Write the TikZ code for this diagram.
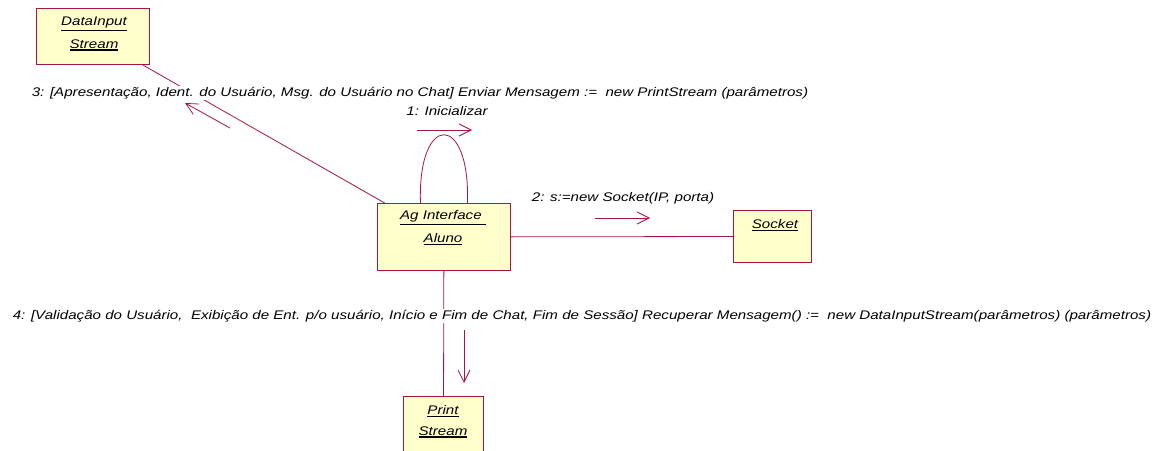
\documentclass[tikz,border=0pt]{standalone}
\usepackage{fontspec}
\setmainfont{Liberation Sans}
\newfontfamily\wideit[FakeStretch=1.21]{Liberation Sans}
\newcommand\thul[1]{\leavevmode\vtop{\hbox{#1}\kern1.2pt\hrule height 1.3pt}}
\usetikzlibrary{arrows.meta}
\definecolor{umlline}{RGB}{165,20,75}
\definecolor{umlfill}{RGB}{255,255,204}
\tikzset{
  obj/.style={draw=umlline, fill=umlfill, line width=0.9pt, anchor=north west, inner sep=0pt},
  conn/.style={draw=umlline, line width=0.8pt},
  msg/.style={draw=umlline, line width=0.8pt, -{Straight Barb[length=12pt,width=12pt,line width=0.8pt]}},
  lbl/.style={font=\wideit\fontsize{12.5}{14}\selectfont\itshape, inner sep=1pt},
  otxt/.style={font=\wideit\fontsize{12.5}{14}\selectfont\itshape, align=center}
}
\begin{document}
\begin{tikzpicture}[x=1pt,y=-1pt]
\useasboundingbox (0,0) rectangle (1169,450);
% objects
\node[obj, minimum width=113pt, minimum height=56pt] (di) at (36,8) {};
\node[otxt] (ditxt) at (94,24) {\thul{DataInput}};
\node[otxt] (ditxt2) at (94,45) {\thul{Stream}};
\node[obj, minimum width=133pt, minimum height=67pt] (ag) at (377,203) {};
\node[otxt] (agtxt) at (443,218) {\thul{Ag Interface\ }};
\node[otxt] (agtxt2) at (443,239) {\thul{Aluno}};
\node[obj, minimum width=78pt, minimum height=52pt] (so) at (733,210) {};
\node[otxt] (sotxt) at (775,225) {\thul{Socket}};
\node[obj, minimum width=80pt, minimum height=60pt] (ps) at (403,396) {};
\node[otxt] (pstxt) at (443,411) {\thul{Print}};
\node[otxt] (pstxt2) at (443,432) {\thul{Stream}};
% connectors
\draw[conn] (di) -- (ag);
\draw[conn] (ag) -- (so);
\draw[conn] (ag) -- (ps);
\draw[conn] ([xshift=-23.5pt]ag.north) .. controls ++(-3,-91) and ++(3,-91) .. ([xshift=23.5pt]ag.north);
% labels
\node[lbl, fill=white] (l3) at (420,93) {3: [Apresentação, Ident. do Usuário, Msg. do Usuário no Chat] Enviar Mensagem :=\ \ new PrintStream (parâmetros)};
\node[lbl, fill=white] (l4) at (582,316) {4: [Validação do Usuário,\ \ Exibição de Ent. p/o usuário, Início e Fim de Chat, Fim de Sessão] Recuperar Mensagem() :=\ \ new DataInputStream(parâmetros) (parâmetros)};
\node[lbl] (l1) at (447,111) {1: Inicializar};
\node[lbl] (l2) at (623,198) {2: s:=new Socket(IP, porta)};
% message arrows
\coordinate (a3s) at (230,128); \coordinate (a3e) at (185,103);
\coordinate (a1s) at (417,130); \coordinate (a1e) at (472,130);
\coordinate (a2s) at (595,218); \coordinate (a2e) at (650,218);
\coordinate (a4s) at (464,330); \coordinate (a4e) at (464,383);
\draw[msg] (a3s) -- (a3e);
\draw[msg] (a1s) -- (a1e);
\draw[msg] (a2s) -- (a2e);
\draw[msg] (a4s) -- (a4e);
\end{tikzpicture}
\end{document}
